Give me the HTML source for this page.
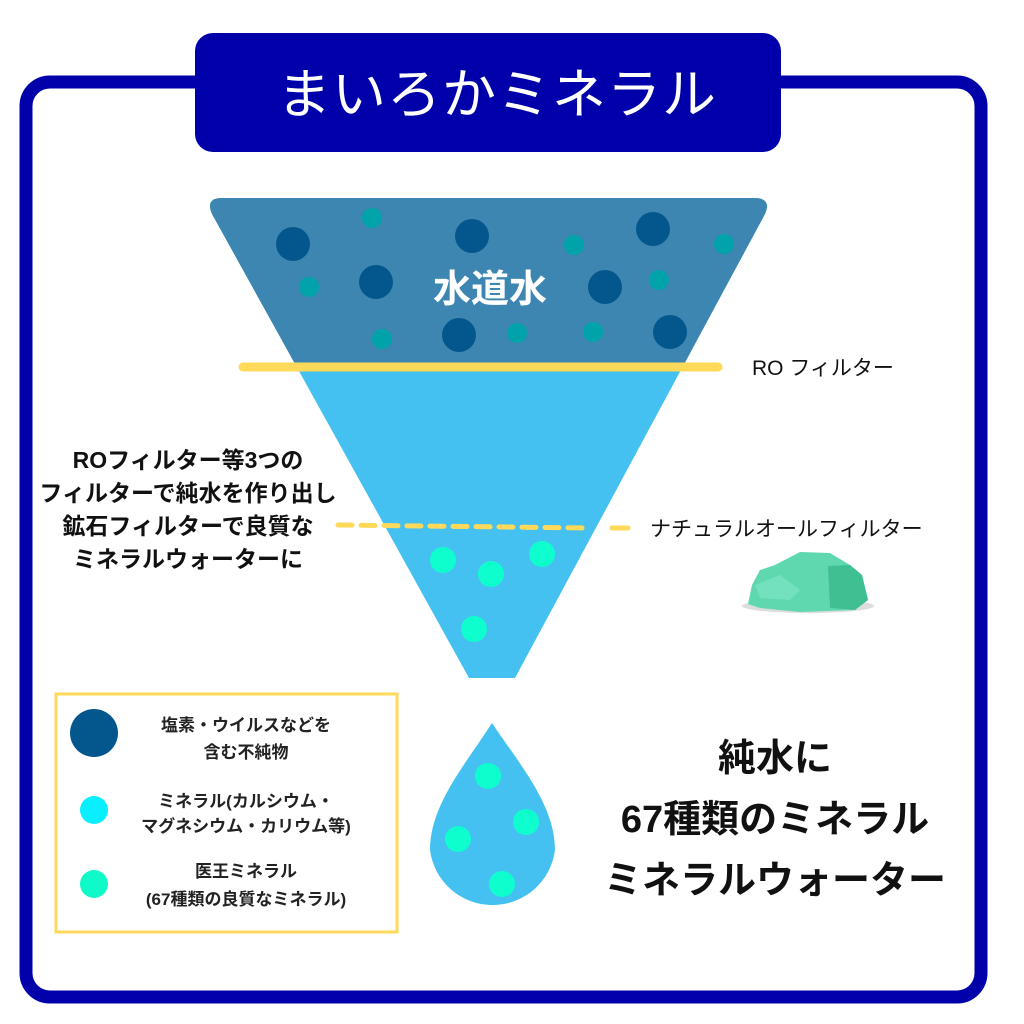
<!DOCTYPE html>
<html><head><meta charset="utf-8"><style>
html,body{margin:0;padding:0;background:#fff;}
svg{display:block;}
text{font-family:"Liberation Sans","Noto Sans CJK JP",sans-serif;}
</style></head><body>
<svg width="1024" height="1024" viewBox="0 0 1024 1024" xmlns="http://www.w3.org/2000/svg">
<rect x="26" y="82" width="955" height="915" rx="24" fill="#fff" stroke="#0000aa" stroke-width="13"/>
<rect x="195" y="33" width="586" height="119" rx="18" fill="#0000aa"/>
<text x="497" y="113" font-size="54" fill="#fff" text-anchor="middle" letter-spacing="1">まいろかミネラル</text>

<defs><clipPath id="fc"><path d="M222,198 L754,198 Q772,198 765,214 L515,678 L469,678 L212,214 Q205,198 222,198 Z"/></clipPath></defs>
<g clip-path="url(#fc)">
<rect x="200" y="190" width="580" height="500" fill="#45c1f1"/>
<rect x="200" y="190" width="580" height="175" fill="#3d86b2"/>
</g>
<g fill="#04578c">
<circle cx="293" cy="244" r="17"/><circle cx="472" cy="236" r="17"/><circle cx="653" cy="229" r="17"/>
<circle cx="376" cy="282" r="17"/><circle cx="605" cy="287" r="17"/>
<circle cx="459" cy="335" r="17"/><circle cx="670" cy="332" r="17"/>
</g>
<g fill="#00a3aa">
<circle cx="372" cy="218" r="10"/><circle cx="574" cy="245" r="10"/><circle cx="724" cy="244" r="10"/>
<circle cx="309" cy="287" r="10"/><circle cx="659" cy="280" r="10"/>
<circle cx="382" cy="339" r="10"/><circle cx="517" cy="333" r="10"/><circle cx="593" cy="332" r="10"/>
</g>
<text x="490" y="302" font-size="38" font-weight="bold" fill="#fff" text-anchor="middle">水道水</text>

<line x1="243" y1="367" x2="718" y2="367" stroke="#ffd95a" stroke-width="9" stroke-linecap="round"/>
<text x="752" y="375" font-size="21" fill="#111">RO フィルター</text>
<line x1="338" y1="525" x2="590" y2="528" stroke="#ffd95a" stroke-width="5" stroke-dasharray="14,9" stroke-linecap="round"/>
<line x1="612" y1="528" x2="638" y2="528" stroke="#ffd95a" stroke-width="5" stroke-dasharray="16,10" stroke-linecap="round"/>
<text x="650" y="536" font-size="21" fill="#111">ナチュラルオールフィルター</text>

<g fill="#0effcd">
<circle cx="443" cy="560" r="13"/><circle cx="491" cy="574" r="13"/><circle cx="542" cy="554" r="13"/><circle cx="474" cy="629" r="13"/>
</g>

<g font-size="23" font-weight="bold" fill="#111" text-anchor="middle">
<text x="188" y="468">ROフィルター等3つの</text>
<text x="188" y="501">フィルターで純水を作り出し</text>
<text x="188" y="534">鉱石フィルターで良質な</text>
<text x="188" y="567">ミネラルウォーターに</text>
</g>

<!-- rock -->
<ellipse cx="808" cy="606" rx="66" ry="7" fill="#ddd"/>
<path d="M748,604 L752,585 L760,570 L775,565 L800,552 L830,553 L850,565 L862,575 L868,600 L855,610 L800,612 L760,608 Z" fill="#5fd8b0"/>
<path d="M828,566 L850,565 L862,575 L868,600 L855,610 L830,608 Z" fill="#3fbf92"/>
<path d="M755,585 L780,575 L800,590 L790,600 L760,598 Z" fill="#7ee5c4" opacity="0.7"/>

<!-- legend -->
<rect x="56" y="694" width="341" height="238" fill="#fff" stroke="#ffd95a" stroke-width="3"/>
<circle cx="94" cy="733" r="24" fill="#04578c"/>
<circle cx="94" cy="810" r="14" fill="#0aefff"/>
<circle cx="94" cy="884" r="14" fill="#10f9c9"/>
<g font-size="17" font-weight="bold" fill="#222" text-anchor="middle">
<text x="246" y="731">塩素・ウイルスなどを</text>
<text x="246" y="758">含む不純物</text>
<text x="246" y="807">ミネラル(カルシウム・</text>
<text x="246" y="832">マグネシウム・カリウム等)</text>
<text x="246" y="877">医王ミネラル</text>
<text x="246" y="905">(67種類の良質なミネラル)</text>
</g>

<!-- drop -->
<path d="M492,723 C520,765 555,805 555,850 A63,63 0 0 1 430,850 C430,805 465,765 492,723 Z" fill="#45c1f1"/>
<g fill="#0effcd">
<circle cx="488" cy="776" r="13"/><circle cx="526" cy="822" r="13"/><circle cx="458" cy="839" r="13"/><circle cx="502" cy="884" r="13"/>
</g>
<g font-size="38" font-weight="bold" fill="#111" text-anchor="middle">
<text x="775" y="771">純水に</text>
<text x="775" y="832">67種類のミネラル</text>
<text x="775" y="893">ミネラルウォーター</text>
</g>
</svg>
</body></html>
